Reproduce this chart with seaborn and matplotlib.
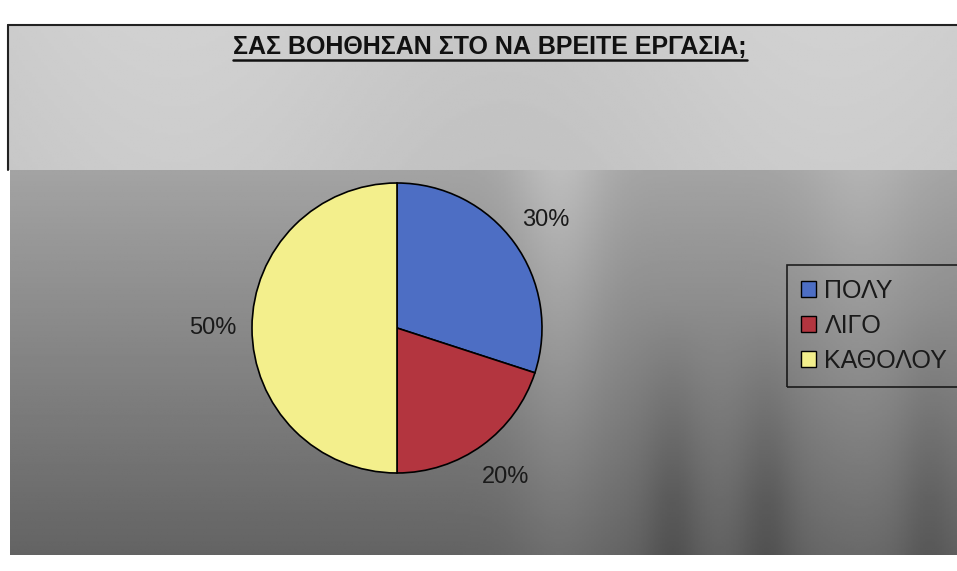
import numpy as np
import pandas as pd
import matplotlib
matplotlib.use('Agg')
import matplotlib.pyplot as plt
import seaborn as sns
from matplotlib.lines import Line2D
from matplotlib.patches import Patch

categories = ['ΠΟΛΥ', 'ΛΙΓΟ', 'ΚΑΘΟΛΟΥ']
values = [30, 20, 50]
title = 'ΣΑΣ ΒΟΗΘΗΣΑΝ ΣΤΟ ΝΑ ΒΡΕΙΤΕ ΕΡΓΑΣΙΑ;'

sns.set_theme(style='white')
plt.rcParams['font.family'] = ['Liberation Sans', 'DejaVu Sans']
colors = sns.color_palette(['#4d6ec4', '#b3353f', '#f3ef8c'])

W, H = 957, 571
fig = plt.figure(figsize=(W / 100, H / 100), dpi=100, facecolor='white')


def fr(x0, y0, x1, y1):
    return [x0 / W, 1 - y1 / H, (x1 - x0) / W, (y1 - y0) / H]


# upper (title) panel
ax_top = fig.add_axes(fr(8, 25, 957, 170))
xx = np.linspace(0, 1, 300)
yy = np.linspace(0, 1, 60)[:, None]
top_img = 0.80 + 0.02 * np.sin(xx * 9)[None, :] - 0.02 * yy
ax_top.imshow(top_img, cmap='gray', vmin=0, vmax=1, aspect='auto',
              extent=[0, 1, 0, 1])
ax_top.set_axis_off()

# lower (chart) panel
ax_bg = fig.add_axes(fr(10, 170, 957, 555))
xx = np.linspace(0, 1, 400)[None, :]
t = np.linspace(0, 1, 200)[:, None]
base = 0.64 - 0.25 * t
streak = (0.10 * np.exp(-((xx - 0.58) / 0.05) ** 2)
          + 0.06 * np.exp(-((xx - 0.90) / 0.06) ** 2)) * (1 - 0.6 * t)
dark = -(0.07 * np.exp(-((xx - 0.70) / 0.03) ** 2)
         + 0.07 * np.exp(-((xx - 0.80) / 0.03) ** 2)
         + 0.05 * np.exp(-((xx - 0.97) / 0.03) ** 2)) * np.clip((t - 0.35) * 2, 0, 1)
bg_img = base + streak + dark
ax_bg.imshow(bg_img, cmap='gray', vmin=0, vmax=1, aspect='auto',
             extent=[0, 1, 0, 1])
ax_bg.set_axis_off()

# borders
fig.add_artist(Line2D([8 / W, 1], [1 - 25 / H] * 2, color='#222222', lw=1.5))
fig.add_artist(Line2D([8 / W] * 2, [1 - 25 / H, 1 - 170 / H], color='#222222', lw=1.5))

# pie
ax = fig.add_axes(fr(247, 178, 547, 478))
ax.set_facecolor('none')
ax.pie(values, colors=colors, startangle=90, counterclock=False,
       autopct='%.0f%%', pctdistance=1.27, radius=1,
       wedgeprops=dict(edgecolor='black', linewidth=1.2),
       textprops=dict(fontsize=17, color='#1a1a1a'))
lim = 150 / 145
ax.set_xlim(-lim, lim)
ax.set_ylim(-lim, lim)
ax.set_axis_off()

# legend
handles = [Patch(facecolor=c, edgecolor='black', linewidth=1) for c in colors]
leg = fig.legend(handles, categories, loc='upper left',
                 bbox_to_anchor=(787 / W, 1 - 265 / H), fontsize=18,
                 frameon=True, fancybox=False, facecolor='none',
                 edgecolor='black', handlelength=0.6, handleheight=0.6,
                 handletextpad=0.35, labelspacing=0.45, borderpad=0.55,
                 borderaxespad=0)
leg.get_frame().set_linewidth(1.2)
for txt in leg.get_texts():
    txt.set_color('#1a1a1a')

# title with underline
tt = fig.text(490 / W, 1 - 47 / H, title, ha='center', va='center',
              fontsize=18, fontweight='bold', color='#111111',
              family=['Liberation Sans Narrow', 'Liberation Sans', 'DejaVu Sans'])
fig.canvas.draw()
bb = tt.get_window_extent()
uy = (bb.y0 - 1) / H
fig.add_artist(Line2D([bb.x0 / W, bb.x1 / W], [uy, uy], color='#111111', lw=1.8))

fig.savefig('out.png', dpi=100, facecolor='white')
